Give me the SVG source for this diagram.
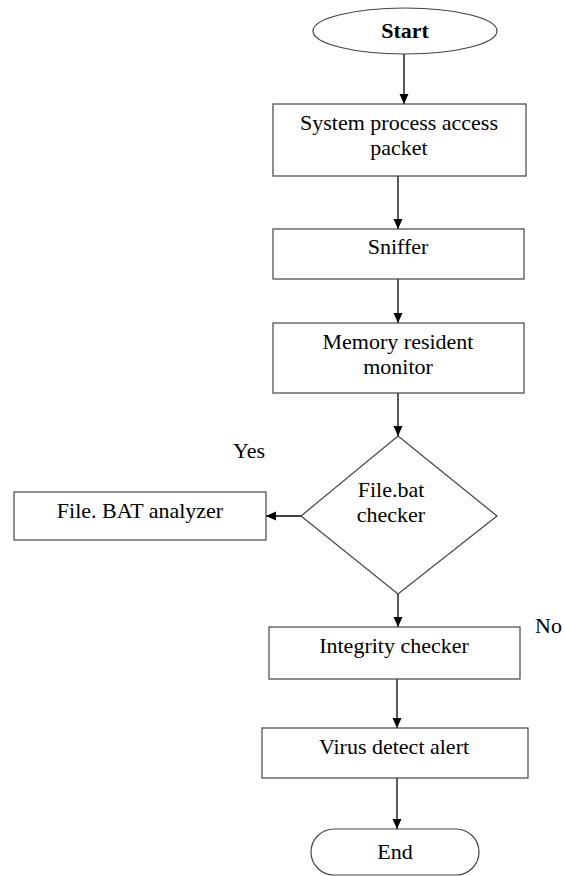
<svg xmlns="http://www.w3.org/2000/svg" width="565" height="876" viewBox="0 0 565 876">
<style>
.n{fill:#fff;stroke:#444;stroke-width:1.2}
.t{font-family:"Liberation Serif","Times New Roman",serif;font-size:22px;fill:#000;text-anchor:middle}
.l{font-family:"Liberation Serif","Times New Roman",serif;font-size:22px;fill:#000}
.c{stroke:#000;stroke-width:1.3;fill:none;marker-end:url(#a)}
</style>
<defs>
<marker id="a" markerWidth="10" markerHeight="10" refX="10" refY="5" orient="auto" markerUnits="userSpaceOnUse">
<path d="M0,0.5 L10,5 L0,9.5 Z" fill="#000"/>
</marker>
</defs>
<rect width="565" height="876" fill="#fff"/>
<g id="connectors">
<line class="c" x1="404" y1="54" x2="404" y2="104"/>
<line class="c" x1="398" y1="176" x2="398" y2="229"/>
<line class="c" x1="398" y1="279" x2="398" y2="323"/>
<line class="c" x1="398" y1="393" x2="398" y2="436"/>
<line class="c" x1="301" y1="516" x2="266" y2="516"/>
<line class="c" x1="398" y1="594" x2="398" y2="627"/>
<line class="c" x1="397" y1="679" x2="397" y2="728"/>
<line class="c" x1="397" y1="778" x2="397" y2="829"/>
</g>
<g id="start">
<ellipse class="n" cx="405" cy="31" rx="92" ry="23"/>
<text class="t" x="405" y="38" font-weight="bold">Start</text>
</g>
<g id="system">
<rect class="n" x="273" y="104" width="253" height="72"/>
<text class="t" x="399" y="130">System process access</text>
<text class="t" x="399" y="155">packet</text>
</g>
<g id="sniffer">
<rect class="n" x="273" y="229" width="251" height="50"/>
<text class="t" x="398" y="254">Sniffer</text>
</g>
<g id="memory">
<rect class="n" x="273" y="323" width="251" height="70"/>
<text class="t" x="398" y="349">Memory resident</text>
<text class="t" x="398" y="374">monitor</text>
</g>
<g id="filebat">
<polygon class="n" points="398,436 497,516 398,594 301,516"/>
<text class="t" x="391" y="497">File.bat</text>
<text class="t" x="391" y="522">checker</text>
</g>
<g id="analyzer">
<rect class="n" x="14" y="492" width="252" height="48"/>
<text class="t" x="140" y="518">File. BAT analyzer</text>
</g>
<g id="integrity">
<rect class="n" x="269" y="627" width="251" height="52"/>
<text class="t" x="394" y="653">Integrity checker</text>
</g>
<g id="virus">
<rect class="n" x="262" y="728" width="266" height="50"/>
<text class="t" x="394" y="754">Virus detect alert</text>
</g>
<g id="end">
<rect class="n" x="311" y="829" width="168" height="46" rx="23" ry="23"/>
<text class="t" x="395" y="859">End</text>
</g>
<g id="labels">
<text class="l" x="233" y="458">Yes</text>
<text class="l" x="535" y="633">No</text>
</g>
</svg>
